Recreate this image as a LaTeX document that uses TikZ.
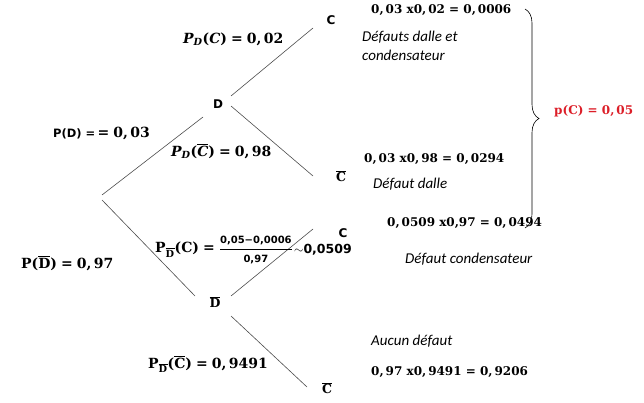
\documentclass[tikz,border=0pt]{standalone}
\usepackage{amsmath}
\usepackage{fontspec}
\newfontfamily\lblfont{DejaVu Sans}
\newfontfamily\calfont{Carlito}
\newfontfamily\dserif{DejaVu Serif}
\newcommand\tb[1]{\text{\dserif\bfseries #1}}
\newcommand\tbi[1]{\text{\dserif\bfseries\itshape #1}}
\usetikzlibrary{decorations.pathreplacing}
\definecolor{pred}{RGB}{220,30,40}
\begin{document}
\begin{tikzpicture}[x=1pt,y=-1pt,
  edge/.style={draw=black!70, line width=0.6pt},
  vtx/.style={font=\lblfont\bfseries\fontsize{12}{14}\selectfont, inner sep=0pt},
  vtxb/.style={font=\dserif\bfseries\fontsize{12.5}{14}\selectfont, inner sep=0pt},
  prob/.style={font=\dserif\bfseries\fontsize{14}{16}\selectfont, inner sep=0pt, anchor=west},
  res/.style={font=\dserif\bfseries\fontsize{12}{14}\selectfont, inner sep=0pt, anchor=west},
  lbl/.style={font=\calfont\itshape\fontsize{15}{19}\selectfont, inner sep=0pt, align=left, anchor=west},
  bracestyle/.style={draw=black, line width=0.6pt, decorate, decoration={brace, amplitude=14pt}}]
\useasboundingbox (0,0) rectangle (644,403);

% tree vertices
\coordinate (r) at (102,197);
\node[vtx]  (D)   at (218,104) {D};
\node[vtxb] (Db)  at (215,302) {$\overline{\tb{D}}$};
\node[vtx]  (C1)  at (331,20)  {C};
\node[vtxb] (Cb1) at (341,176) {$\overline{\tb{C}}$};
\node[vtx]  (C2)  at (343,233) {C};
\node[vtxb] (Cb2) at (327,388) {$\overline{\tb{C}}$};

% branches
\draw[edge] ([shift={(0,-2)}]r) -- ([shift={(-15,13)}]D.center);
\draw[edge] ([shift={(0,3)}]r) -- ([shift={(-20,-6)}]Db.center);
\draw[edge] ([shift={(13,-8)}]D.center) -- ([shift={(-18,8)}]C1.center);
\draw[edge] ([shift={(13,2)}]D.center) -- ([shift={(-28,0)}]Cb1.center);
\draw[edge] ([shift={(16,-6)}]Db.center) -- ([shift={(-30,-4)}]C2.center);
\draw[edge] ([shift={(16,14)}]Db.center) -- ([shift={(-20,-1)}]Cb2.center);

% branch probabilities
\node[prob] (pdc)  at (183,39)  {$\tbi{P}_{\tbi{D}}\tb{(}\tbi{C}\tb{)}\mathrel{\tb{=}}\tb{0,\,02}$};
\node[prob] (pd)   at (53,133)  {{\lblfont\bfseries\fontsize{11.5}{13}\selectfont P(D) =}\,$\mathrel{\tb{=}}\tb{0,\,03}$};
\node[prob] (pdcb) at (171,151) {$\tbi{P}_{\tbi{D}}\tb{(}\overline{\tbi{C}}\tb{)}\mathrel{\tb{=}}\tb{0,\,98}$};
\node[prob] (pdb)  at (21,263)  {$\tb{P(}\overline{\tb{D}}\tb{)}\mathrel{\tb{=}}\tb{0,\,97}$};
\node[prob] (pdbc) at (155,250) {$\tb{P}_{\overline{\tb{D}}}\tb{(C)}\mathrel{\tb{=}}\dfrac{\text{\lblfont\bfseries\fontsize{10}{11}\selectfont 0,05−0,0006}}{\text{\lblfont\bfseries\fontsize{10}{11}\selectfont 0,97}}$};
\node[prob, font=\lblfont\bfseries\fontsize{12.5}{14}\selectfont] (approx) at (294,250) {$\sim$0,0509};
\node[prob] (pdbcb) at (148,364) {$\tb{P}_{\overline{\tb{D}}}\tb{(}\overline{\tb{C}}\tb{)}\mathrel{\tb{=}}\tb{0,\,9491}$};

% results
\node[res] (r1) at (371,10)  {0,\,03 x0,\,02 = 0,\,0006};
\node[lbl] (l1) at (362,46)  {Défauts dalle et\\condensateur};
\node[res] (r2) at (364,159) {0,\,03 x0,\,98 = 0,\,0294};
\node[lbl] (l2) at (373,184) {Défaut dalle};
\node[res] (r3) at (387,223) {0,\,0509 x0,97 = 0,\,0494};
\node[lbl] (l3) at (405,259) {Défaut condensateur};
\node[lbl] (l4) at (371,341) {Aucun défaut};
\node[res] (r4) at (371,372) {0,\,97 x0,\,9491 = 0,\,9206};

% brace and total
\coordinate (btop) at (525,9);
\coordinate (bbot) at (525,228);
\draw[bracestyle] (btop) -- (bbot);
\node[res, text=pred] (pc) at (554,111) {p(C) = 0,\,05};
\end{tikzpicture}
\end{document}
